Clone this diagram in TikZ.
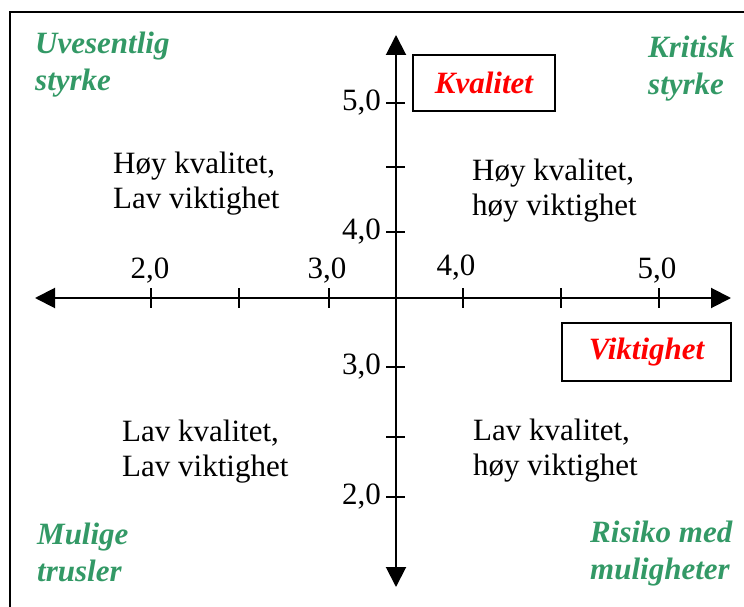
\documentclass[tikz,border=0pt]{standalone}
\usepackage{fontspec}
\setmainfont{Liberation Serif}
\usetikzlibrary{arrows.meta}
\definecolor{quadgreen}{RGB}{51,153,102}
\begin{document}
\begin{tikzpicture}[x=1pt,y=-1pt,
  every node/.style={font=\fontsize{31}{35}\selectfont, inner sep=0pt},
  axis/.style={line width=2pt, {Triangle[length=20pt,width=20pt]}-{Triangle[length=20pt,width=20pt]}},
  tickmark/.style={line width=1.4pt},
  corner/.style={text=quadgreen, font=\fontsize{31}{37}\selectfont\bfseries\itshape, align=left, anchor=west},
  quad/.style={align=left, anchor=west},
  axisname/.style={draw, line width=1.5pt, text=red, font=\fontsize{31}{35}\selectfont\bfseries\itshape}]
\useasboundingbox (0,0) rectangle (744,607);
% outer frame (open towards right and bottom)
\draw[line width=2pt] (10,620) -- (10,12) -- (760,12);

% axes
\coordinate (xl) at (35,298);
\coordinate (xr) at (731,298);
\coordinate (yt) at (396,35);
\coordinate (yb) at (396,587);
\draw[axis] (xl) -- (xr);
\draw[axis] (yt) -- (yb);

% ticks on the horizontal axis
\foreach \tx in {151,239,329,463,561,659}
  \draw[tickmark] (\tx,288) -- (\tx,308);
% ticks on the vertical axis
\foreach \ty in {103,167,232,367,437,497}
  \draw[tickmark] (386,\ty) -- (405,\ty);

% horizontal axis values
\node (h2) at (150,271) {2,0};
\node (h3) at (327,271) {3,0};
\node (h4) at (456,268) {4,0};
\node (h5) at (657,271) {5,0};
% vertical axis values
\node[anchor=east] (v5) at (381,103) {5,0};
\node[anchor=east] (v4) at (381,232) {4,0};
\node[anchor=east] (v3) at (381,367) {3,0};
\node[anchor=east] (v2) at (381,497) {2,0};

% axis names
\node[axisname, minimum width=142pt, minimum height=56pt] (kval) at (484,83) {Kvalitet};
\node[axisname, minimum width=169pt, minimum height=58pt] (vikt) at (646.5,352) {Viktighet};

% corner labels
\node[corner] (uv) at (35,65) {Uvesentlig\\styrke};
\node[corner] (kr) at (648,69) {Kritisk\\styrke};
\node[corner] (mu) at (37,552) {Mulige\\trusler};
\node[corner] (ri) at (590,554) {Risiko med\\muligheter};

% quadrant descriptions
\node[quad] (q1) at (113,183.5) {Høy kvalitet,\\Lav viktighet};
\node[quad] (q2) at (472,190.5) {Høy kvalitet,\\høy viktighet};
\node[quad] (q3) at (122,452) {Lav kvalitet,\\Lav viktighet};
\node[quad] (q4) at (473,450.5) {Lav kvalitet,\\høy viktighet};
\end{tikzpicture}
\end{document}
